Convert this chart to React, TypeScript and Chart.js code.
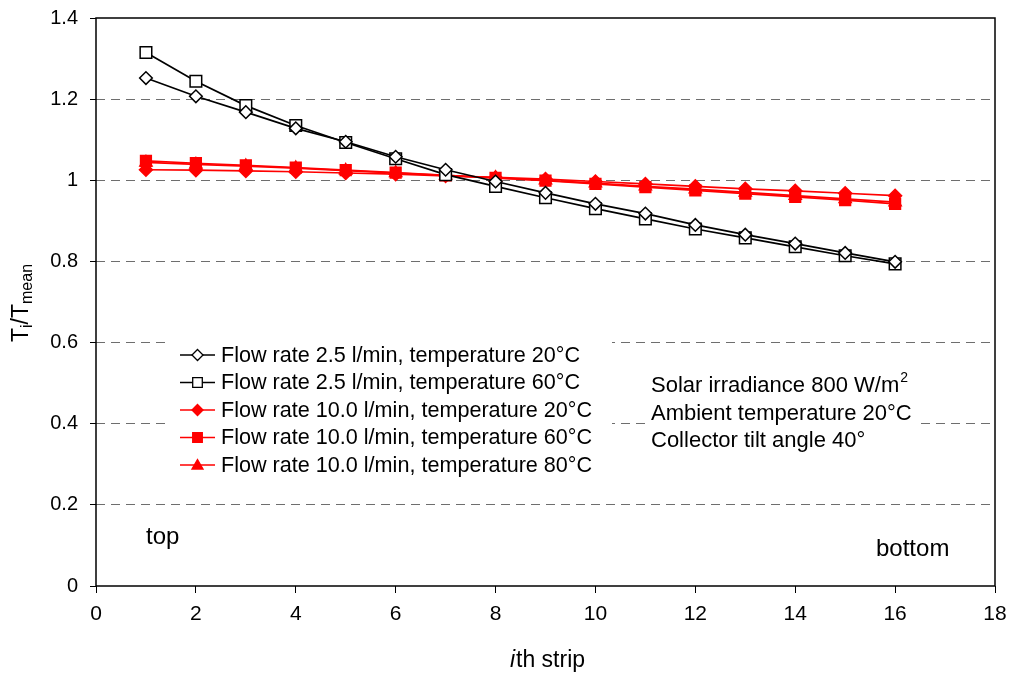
import React, { useEffect, useRef } from "react";
import { Chart, registerables } from "chart.js";

Chart.register(...registerables);

const strips = [1, 2, 3, 4, 5, 6, 7, 8, 9, 10, 11, 12, 13, 14, 15, 16];
const flow25T20 = [1.252, 1.207, 1.168, 1.128, 1.095, 1.058, 1.026, 0.997, 0.969, 0.942, 0.918, 0.890, 0.866, 0.844, 0.821, 0.799];
const flow25T60 = [1.315, 1.244, 1.184, 1.135, 1.093, 1.053, 1.014, 0.985, 0.957, 0.930, 0.905, 0.880, 0.858, 0.836, 0.814, 0.794];
const flow10T20 = [1.026, 1.025, 1.023, 1.021, 1.018, 1.015, 1.011, 1.007, 1.003, 0.997, 0.991, 0.985, 0.979, 0.974, 0.968, 0.962];
const flow10T60 = [1.048, 1.042, 1.037, 1.031, 1.025, 1.019, 1.012, 1.006, 0.999, 0.991, 0.983, 0.975, 0.967, 0.959, 0.951, 0.942];
const flow10T80 = [1.044, 1.039, 1.035, 1.030, 1.024, 1.018, 1.012, 1.006, 1.000, 0.993, 0.985, 0.978, 0.970, 0.962, 0.954, 0.946];

const seriesLabels = [
  "Flow rate 2.5 l/min, temperature 20°C",
  "Flow rate 2.5 l/min, temperature 60°C",
  "Flow rate 10.0 l/min, temperature 20°C",
  "Flow rate 10.0 l/min, temperature 60°C",
  "Flow rate 10.0 l/min, temperature 80°C",
];
const conditionLines = ["Solar irradiance 800 W/m", "Ambient temperature 20°C", "Collector tilt angle 40°"];
const xTitleItalic = "i";
const xTitleRest = "th strip";
const topLabel = "top";
const bottomLabel = "bottom";

const SANS = '"Liberation Sans", Arial, sans-serif';
const NARROW = '"Liberation Sans Narrow", "Arial Narrow", "Liberation Sans", sans-serif';

type Marker = { style: string; fill: string; stroke: string; line: string };
const markers: Marker[] = [
  { style: "rectRot", fill: "#ffffff", stroke: "#000000", line: "#000000" },
  { style: "rect", fill: "#ffffff", stroke: "#000000", line: "#000000" },
  { style: "rectRot", fill: "#ff0000", stroke: "#ff0000", line: "#ff0000" },
  { style: "rect", fill: "#ff0000", stroke: "#ff0000", line: "#ff0000" },
  { style: "triangle", fill: "#ff0000", stroke: "#ff0000", line: "#ff0000" },
];

function drawMarker(ctx: CanvasRenderingContext2D, style: string, x: number, y: number, s: number, fill: string, stroke: string) {
  ctx.beginPath();
  if (style === "rect") {
    ctx.rect(x - s, y - s, 2 * s, 2 * s);
  } else if (style === "rectRot") {
    ctx.moveTo(x, y - s * 1.15);
    ctx.lineTo(x + s * 1.15, y);
    ctx.lineTo(x, y + s * 1.15);
    ctx.lineTo(x - s * 1.15, y);
    ctx.closePath();
  } else {
    ctx.moveTo(x, y - s * 1.15);
    ctx.lineTo(x + s * 1.15, y + s * 0.85);
    ctx.lineTo(x - s * 1.15, y + s * 0.85);
    ctx.closePath();
  }
  ctx.fillStyle = fill;
  ctx.fill();
  ctx.lineWidth = 1.3;
  ctx.strokeStyle = stroke;
  ctx.stroke();
}

const overlayPlugin = {
  id: "overlay",
  beforeDatasetsDraw(chart: any) {
    const ctx = chart.ctx as CanvasRenderingContext2D;
    ctx.save();
    ctx.fillStyle = "#ffffff";
    ctx.fillRect(166, 336, 446, 144);
    ctx.fillRect(645, 368, 272, 88);
    ctx.restore();
  },
  afterDraw(chart: any) {
    const ctx = chart.ctx as CanvasRenderingContext2D;
    const a = chart.chartArea;
    ctx.save();
    ctx.setLineDash([]);
    ctx.strokeStyle = "#000000";
    ctx.lineWidth = 1.5;
    ctx.strokeRect(a.left, a.top, a.right - a.left, a.bottom - a.top);

    // legend
    ctx.textBaseline = "middle";
    ctx.textAlign = "left";
    const rowY = [355, 382.5, 410, 437.5, 465];
    seriesLabels.forEach((lab, i) => {
      const m = markers[i];
      const y = rowY[i];
      ctx.beginPath();
      ctx.moveTo(180, y);
      ctx.lineTo(215, y);
      ctx.strokeStyle = m.line;
      ctx.lineWidth = 1.6;
      ctx.stroke();
      drawMarker(ctx, m.style, 197.5, y, 4.8, m.fill, m.stroke);
      ctx.fillStyle = "#000000";
      ctx.font = `21.6px ${SANS}`;
      ctx.fillText(lab, 221, y + 1);
    });

    // conditions
    ctx.font = `22px ${SANS}`;
    const condY = [386, 414, 441];
    conditionLines.forEach((t, i) => {
      ctx.fillText(t, 651, condY[i]);
      if (i === 0) {
        const w = ctx.measureText(t).width;
        ctx.font = `14px ${SANS}`;
        ctx.fillText("2", 651 + w + 1, condY[i] - 8);
        ctx.font = `22px ${SANS}`;
      }
    });

    ctx.font = `24px ${SANS}`;
    ctx.fillText(topLabel, 146, 537);
    ctx.fillText(bottomLabel, 876, 549);

    // x title
    ctx.font = `italic 23px ${NARROW}`;
    const wi = ctx.measureText(xTitleItalic).width;
    ctx.font = `23px ${NARROW}`;
    const wr = ctx.measureText(xTitleRest).width;
    const xs = 547 - (wi + wr) / 2;
    ctx.font = `italic 23px ${NARROW}`;
    ctx.fillText(xTitleItalic, xs, 661);
    ctx.font = `23px ${NARROW}`;
    ctx.fillText(xTitleRest, xs + wi + 1, 661);

    // y title
    ctx.translate(22, 303);
    ctx.rotate(-Math.PI / 2);
    const parts: [string, boolean][] = [["T", false], ["i", true], ["/T", false], ["mean", true]];
    let total = 0;
    parts.forEach(([t, sub]) => {
      ctx.font = sub ? `16px ${SANS}` : `23px ${SANS}`;
      total += ctx.measureText(t).width;
    });
    let px = -total / 2;
    parts.forEach(([t, sub]) => {
      ctx.font = sub ? `16px ${SANS}` : `23px ${SANS}`;
      ctx.fillText(t, px, sub ? 6 : 0);
      px += ctx.measureText(t).width;
    });
    ctx.restore();
  },
};

function toPts(vals: number[]) {
  return strips.map((s, i) => ({ x: s, y: vals[i] }));
}

export default function App() {
  const ref = useRef<HTMLCanvasElement | null>(null);
  useEffect(() => {
    if (!ref.current) return;
    const allVals = [flow25T20, flow25T60, flow10T20, flow10T60, flow10T80];
    const radii = [6.3, 8.2, 6.5, 7.6, 7];
    const chart = new Chart(ref.current, {
      type: "line",
      data: {
        datasets: allVals.map((v, i) => ({
          label: seriesLabels[i],
          data: toPts(v),
          borderColor: markers[i].line,
          backgroundColor: markers[i].fill,
          pointBackgroundColor: markers[i].fill,
          pointBorderColor: markers[i].stroke,
          pointBorderWidth: 1.5,
          pointStyle: markers[i].style as any,
          pointRadius: radii[i],
          borderWidth: 1.7,
          tension: 0,
          fill: false,
        })),
      },
      options: {
        animation: false,
        responsive: true,
        maintainAspectRatio: false,
        layout: { padding: { left: 0, top: 18, right: 21, bottom: 0 } },
        plugins: { legend: { display: false }, tooltip: { enabled: false } },
        scales: {
          x: {
            type: "linear",
            min: 0,
            max: 18,
            ticks: { stepSize: 2, color: "#000", font: { family: NARROW, size: 21 }, padding: 9, maxRotation: 0 },
            grid: { display: true, drawOnChartArea: false, drawTicks: true, tickLength: 7, tickColor: "#000", tickWidth: 1 },
            border: { display: false },
            afterFit: (s: any) => { s.height = 91; },
          },
          y: {
            type: "linear",
            min: 0,
            max: 1.4,
            ticks: {
              stepSize: 0.2,
              color: "#000",
              font: { family: SANS, size: 20 },
              padding: 12,
              callback: (v: any) => String(Number(Number(v).toFixed(1))),
            },
            grid: {
              display: true,
              drawOnChartArea: true,
              drawTicks: true,
              tickLength: 6,
              tickColor: "#000",
              tickWidth: 1,
              tickBorderDash: [],
              color: (c: any) => {
                const v = c.tick ? c.tick.value : 0;
                return v <= 0.0001 || v >= 1.3999 ? "rgba(0,0,0,0)" : "#6e6e6e";
              },
              lineWidth: 1,
              borderDash: [9, 6],
            } as any,
            border: { display: false, dash: [9, 6] },
            afterFit: (s: any) => { s.width = 96; s.paddingTop = 0; s.paddingBottom = 0; },
          },
        },
      },
      plugins: [overlayPlugin],
    });
    return () => chart.destroy();
  }, []);
  return (
    <div style={{ position: "fixed", left: 0, top: 0, width: 1016, height: 677, background: "#fff" }}>
      <canvas ref={ref} />
    </div>
  );
}
